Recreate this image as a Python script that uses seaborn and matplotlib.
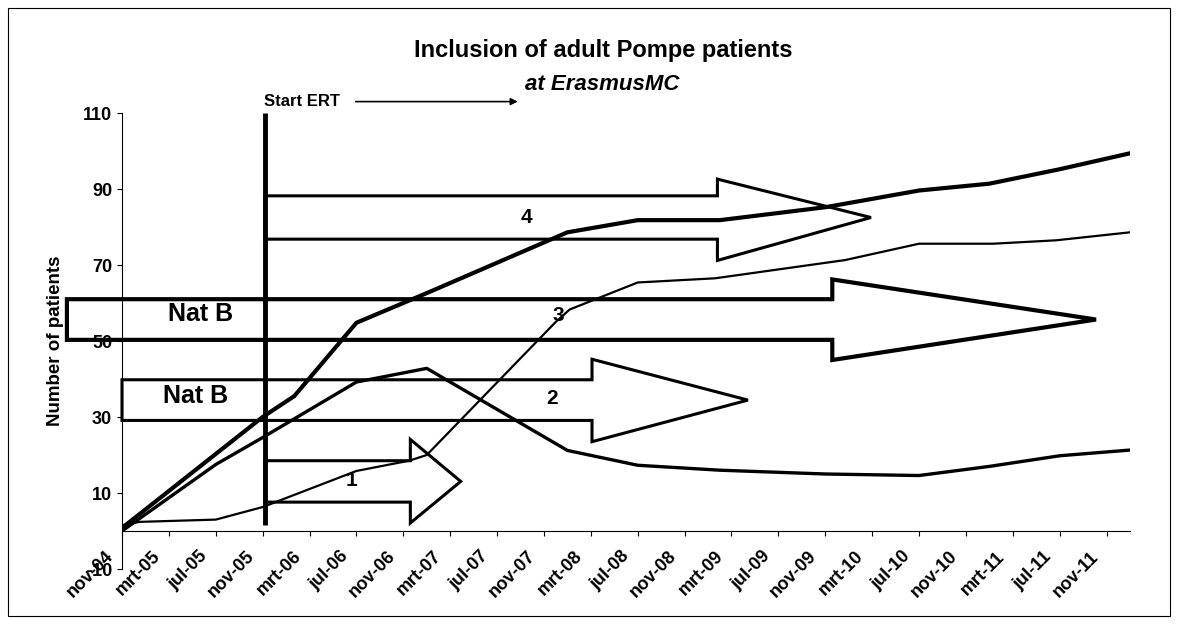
import matplotlib
matplotlib.use('Agg')
import matplotlib.pyplot as plt
import matplotlib.transforms as mtransforms
from matplotlib.patches import Polygon, Rectangle
import pandas as pd
import seaborn as sns

# x positions are months counted from nov-04
tick_labels = ['nov-04', 'mrt-05', 'jul-05', 'nov-05', 'mrt-06', 'jul-06', 'nov-06', 'mrt-07',
               'jul-07', 'nov-07', 'mrt-08', 'jul-08', 'nov-08', 'mrt-09', 'jul-09', 'nov-09',
               'mrt-10', 'jul-10', 'nov-10', 'mrt-11', 'jul-11', 'nov-11']
tick_months = list(range(0, 85, 4))
y_ticks = [-10, 10, 30, 50, 70, 90, 110]

# thick line (all patients)
total_m = [0, 12, 14.7, 20, 26, 38, 44, 51, 60, 68, 74, 80, 86]
total_n = [0.8, 30, 35.5, 54.8, 62.6, 78.6, 81.8, 81.8, 85.2, 89.6, 91.4, 95.2, 99.4]

# medium line (up to 43, then down)
nat_m = [0, 8, 12, 20, 26, 38, 44, 51, 60, 68, 74, 80, 86]
nat_n = [0, 17.5, 24.6, 39.2, 42.8, 21.2, 17.3, 16, 15, 14.6, 17, 19.8, 21.3]

# thin line
ert_m = [0, 1.5, 8, 12, 20, 24.5, 26, 37, 38.2, 44, 50.6, 61.7, 68, 74.3, 79.7, 86]
ert_n = [1.5, 2.4, 3, 6.3, 15.8, 18.5, 20, 55, 58.3, 65.4, 66.5, 71.3, 75.6, 75.6, 76.5, 78.6]

# block arrows (cohorts 1..4)
arrow_x0 = [12.2, 0, -4.7, 12.2]
arrow_xhead = [24.6, 40.1, 60.6, 50.8]
arrow_xtip = [28.9, 53.4, 83.1, 63.9]
shaft_top = [18.5, 39.8, 61, 88.2]
shaft_bot = [7.6, 29.1, 50.3, 76.8]
head_top = [24.1, 45.2, 66.2, 92.6]
head_bot = [2.1, 23.5, 45, 71.2]
arrow_lw = [2.2, 2.2, 3, 2.2]

cohort_labels = ['1', '2', '3', '4']
cohort_lx = [19.6, 36.7, 37.2, 34.5]
cohort_ly = [13.4, 35, 56.8, 82.6]
natb_x = [6.7, 6.3]
natb_y = [57, 35.5]

ert_start = 12.2

sns.set_style('ticks')
plt.rcParams['font.family'] = ['Liberation Sans', 'DejaVu Sans']
plt.rcParams['axes.unicode_minus'] = False
for key in ['text.color', 'axes.labelcolor', 'xtick.color', 'ytick.color', 'axes.edgecolor']:
    plt.rcParams[key] = 'black'

W, H = 1178, 624
fig = plt.figure(figsize=(W / 100, H / 100), dpi=100)
ax = fig.add_axes([122 / W, 55 / H, 1008 / W, 456 / H])

for x0, xh, xt, st, sb, ht, hb, lw in zip(arrow_x0, arrow_xhead, arrow_xtip, shaft_top,
                                          shaft_bot, head_top, head_bot, arrow_lw):
    pts = [(x0, st), (xh, st), (xh, ht), (xt, (st + sb) / 2), (xh, hb), (xh, sb), (x0, sb)]
    ax.add_patch(Polygon(pts, closed=True, fill=False, edgecolor='black', lw=lw,
                         joinstyle='miter', clip_on=False, zorder=2))

lines = pd.concat([
    pd.DataFrame({'month': total_m, 'n': total_n, 'serie': 'total'}),
    pd.DataFrame({'month': nat_m, 'n': nat_n, 'serie': 'nat'}),
    pd.DataFrame({'month': ert_m, 'n': ert_n, 'serie': 'ert'}),
])
widths = {'total': 3.0, 'nat': 2.4, 'ert': 1.6}
for name, grp in lines.groupby('serie', sort=False):
    sns.lineplot(data=grp, x='month', y='n', ax=ax, color='black', lw=widths[name],
                 estimator=None, sort=False, zorder=3)

ax.vlines(ert_start, 1.5, 110, color='black', lw=3.5, zorder=4)
ax.text(ert_start - 0.1, 113, 'Start ERT', ha='left', va='center', fontsize=12,
        fontweight='bold')
ax.annotate('', xy=(34, 113), xytext=(19.7, 113),
            arrowprops=dict(arrowstyle='-|>', color='black', lw=1.2, mutation_scale=10),
            annotation_clip=False)

for lab, x, y in zip(cohort_labels, cohort_lx, cohort_ly):
    ax.text(x, y, lab, ha='center', va='center', fontsize=15, fontweight='bold', zorder=5)
for x, y in zip(natb_x, natb_y):
    ax.text(x, y, 'Nat B', ha='center', va='center', fontsize=18, fontweight='bold', zorder=5)

# spine position first: it resets the ticks
ax.spines['top'].set_visible(False)
ax.spines['right'].set_visible(False)
ax.spines['bottom'].set_position(('data', 0))
ax.spines['left'].set_linewidth(0.8)
ax.spines['bottom'].set_linewidth(0.8)

ax.set_xlim(0, 86)
ax.set_ylim(-10, 110)
ax.tick_params(axis='x', direction='out', length=3.6, width=0.8, pad=13)
ax.tick_params(axis='y', direction='out', length=3.6, width=0.8, pad=3.5)
ax.set_yticks(y_ticks)
ax.set_yticklabels([str(v) for v in y_ticks], fontsize=13, fontweight='bold')
ax.set_xticks(tick_months)
ax.set_xticklabels(tick_labels, fontsize=13, fontweight='bold')
shift = mtransforms.ScaledTranslation(-0.11, 0, fig.dpi_scale_trans)
for t in ax.get_xticklabels():
    t.set_rotation(45)
    t.set_ha('right')
    t.set_va('center')
    t.set_rotation_mode('anchor')
    t.set_transform(t.get_transform() + shift)

ax.set_xlabel('')
ax.set_ylabel('Number of patients', fontsize=13.5, fontweight='bold')
ax.yaxis.set_label_coords(-58 / 1008, 0.5)

fig.text(603 / W, 1 - 50 / H, 'Inclusion of adult Pompe patients', ha='center', va='center',
         fontsize=17, fontweight='bold')
fig.text(602 / W, 1 - 85 / H, 'at ErasmusMC', ha='center', va='center', fontsize=16,
         fontweight='bold', style='italic')
fig.add_artist(Rectangle((8 / W, 8 / H), 1162 / W, 608 / H, transform=fig.transFigure,
                         fill=False, lw=0.8, edgecolor='black'))

fig.savefig('out.png', dpi=100)
